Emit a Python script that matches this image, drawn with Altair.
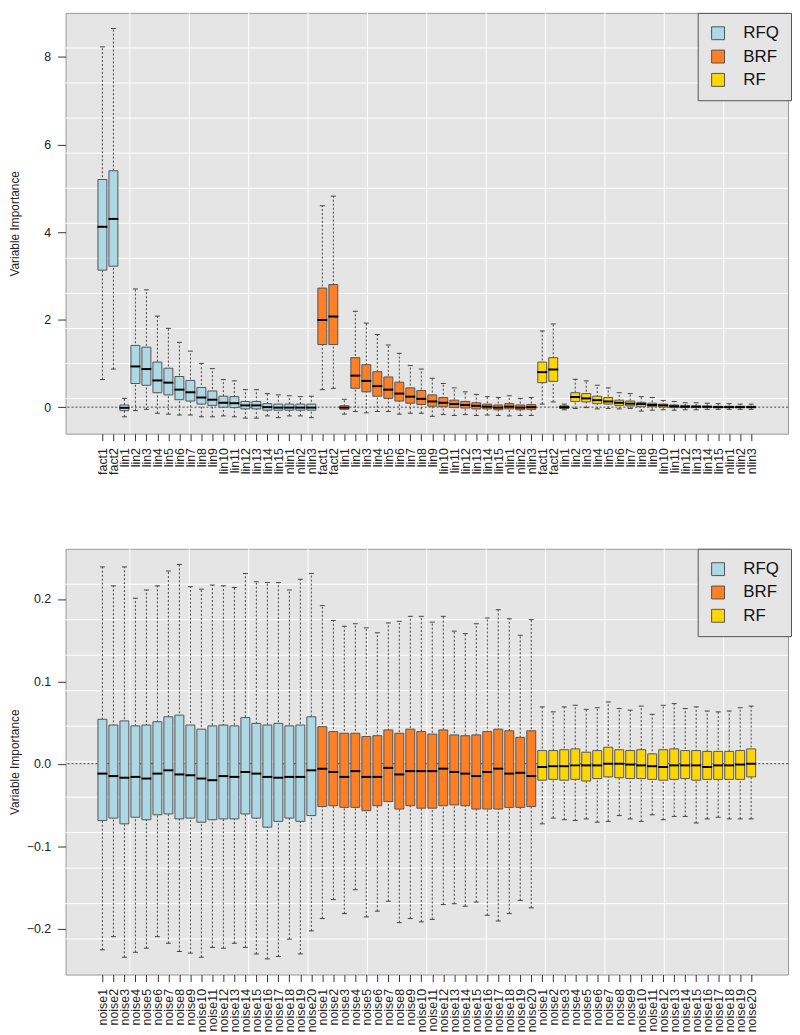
import altair as alt
import pandas as pd

METHODS = ["RFQ", "BRF", "RF"]
COLORS = ["#ADD8E6", "#FF7F24", "#FFD700"]

TOP_LABELS = ["fact1", "fact2", "lin1", "lin2", "lin3", "lin4", "lin5", "lin6", "lin7",
              "lin8", "lin9", "lin10", "lin11", "lin12", "lin13", "lin14", "lin15",
              "nlin1", "nlin2", "nlin3"]
NOISE_LABELS = ["noise1", "noise2", "noise3", "noise4", "noise5", "noise6", "noise7",
                "noise8", "noise9", "noise10", "noise11", "noise12", "noise13", "noise14",
                "noise15", "noise16", "noise17", "noise18", "noise19", "noise20"]

# ---- top panel (signal variables): lower whisker, Q1, median, Q3, upper whisker ----
RFQ_TOP_LO = [0.63, 0.87, -0.22, -0.08, -0.05, -0.14, -0.16, -0.18, -0.18, -0.22, -0.22, -0.20, -0.22, -0.25, -0.25, -0.20, -0.24, -0.20, -0.20, -0.24]
RFQ_TOP_Q1 = [3.13, 3.22, -0.08, 0.54, 0.50, 0.33, 0.28, 0.17, 0.14, 0.07, 0.04, 0.00, -0.01, -0.04, -0.04, -0.07, -0.07, -0.07, -0.07, -0.07]
RFQ_TOP_MED = [4.12, 4.30, -0.015, 0.93, 0.87, 0.61, 0.56, 0.40, 0.34, 0.22, 0.17, 0.10, 0.09, 0.04, 0.04, 0.00, -0.01, -0.01, -0.01, -0.01]
RFQ_TOP_Q3 = [5.20, 5.40, 0.05, 1.41, 1.37, 1.03, 0.89, 0.70, 0.61, 0.45, 0.37, 0.25, 0.24, 0.13, 0.13, 0.08, 0.07, 0.07, 0.07, 0.07]
RFQ_TOP_HI = [8.23, 8.65, 0.20, 2.70, 2.68, 2.08, 1.80, 1.48, 1.28, 1.00, 0.88, 0.63, 0.60, 0.40, 0.40, 0.31, 0.28, 0.26, 0.24, 0.25]

BRF_TOP_LO = [0.40, 0.43, -0.16, -0.10, -0.13, -0.10, -0.10, -0.16, -0.14, -0.14, -0.21, -0.17, -0.19, -0.17, -0.19, -0.18, -0.19, -0.20, -0.19, -0.19]
BRF_TOP_Q1 = [1.43, 1.43, -0.05, 0.43, 0.35, 0.25, 0.20, 0.14, 0.09, 0.06, 0.02, 0.01, -0.01, -0.02, -0.04, -0.04, -0.06, -0.04, -0.06, -0.05]
BRF_TOP_MED = [1.99, 2.07, -0.01, 0.72, 0.60, 0.48, 0.40, 0.31, 0.24, 0.19, 0.13, 0.10, 0.07, 0.05, 0.03, 0.01, -0.01, 0.01, -0.01, 0.00]
BRF_TOP_Q3 = [2.72, 2.80, 0.03, 1.13, 0.97, 0.81, 0.69, 0.57, 0.44, 0.38, 0.28, 0.22, 0.16, 0.13, 0.10, 0.07, 0.05, 0.08, 0.05, 0.06]
BRF_TOP_HI = [4.60, 4.82, 0.18, 2.19, 1.92, 1.66, 1.42, 1.23, 0.95, 0.87, 0.66, 0.54, 0.44, 0.35, 0.29, 0.24, 0.22, 0.26, 0.20, 0.22]

RF_TOP_LO = [0.07, 0.12, -0.06, -0.03, -0.01, -0.04, -0.03, -0.04, -0.03, -0.09, -0.07, -0.06, -0.07, -0.06, -0.06, -0.05, -0.05, -0.05, -0.05, -0.05]
RF_TOP_Q1 = [0.56, 0.59, -0.03, 0.13, 0.12, 0.08, 0.07, 0.04, 0.03, 0.01, 0.01, 0.00, -0.01, -0.01, -0.01, -0.01, -0.01, -0.01, -0.01, -0.01]
RF_TOP_MED = [0.80, 0.86, 0.00, 0.23, 0.20, 0.16, 0.13, 0.10, 0.08, 0.07, 0.05, 0.04, 0.02, 0.01, 0.01, 0.01, 0.00, 0.00, 0.00, 0.00]
RF_TOP_Q3 = [1.03, 1.13, 0.03, 0.33, 0.31, 0.25, 0.22, 0.16, 0.14, 0.11, 0.09, 0.07, 0.05, 0.04, 0.03, 0.02, 0.02, 0.02, 0.02, 0.02]
RF_TOP_HI = [1.74, 1.90, 0.07, 0.64, 0.60, 0.50, 0.44, 0.33, 0.31, 0.24, 0.22, 0.15, 0.13, 0.10, 0.10, 0.09, 0.08, 0.08, 0.07, 0.07]

# ---- bottom panel (noise variables) ----
RFQ_NOI_LO = [-0.226, -0.210, -0.235, -0.229, -0.224, -0.210, -0.218, -0.228, -0.230, -0.235, -0.223, -0.224, -0.218, -0.223, -0.231, -0.237, -0.234, -0.213, -0.231, -0.203]
RFQ_NOI_Q1 = [-0.069, -0.066, -0.073, -0.065, -0.068, -0.062, -0.061, -0.067, -0.066, -0.071, -0.068, -0.067, -0.067, -0.061, -0.066, -0.077, -0.070, -0.066, -0.070, -0.063]
RFQ_NOI_MED = [-0.012, -0.015, -0.017, -0.016, -0.018, -0.012, -0.008, -0.013, -0.014, -0.018, -0.020, -0.015, -0.016, -0.010, -0.012, -0.016, -0.017, -0.016, -0.016, -0.008]
RFQ_NOI_Q3 = [0.054, 0.047, 0.052, 0.046, 0.047, 0.051, 0.057, 0.059, 0.047, 0.042, 0.046, 0.047, 0.046, 0.056, 0.049, 0.047, 0.049, 0.046, 0.047, 0.057]
RFQ_NOI_HI = [0.239, 0.216, 0.239, 0.201, 0.211, 0.216, 0.234, 0.242, 0.215, 0.212, 0.217, 0.216, 0.214, 0.231, 0.221, 0.220, 0.220, 0.211, 0.224, 0.231]

BRF_NOI_LO = [-0.188, -0.165, -0.182, -0.153, -0.186, -0.179, -0.167, -0.193, -0.188, -0.192, -0.189, -0.171, -0.170, -0.173, -0.168, -0.184, -0.191, -0.182, -0.166, -0.175]
BRF_NOI_Q1 = [-0.052, -0.051, -0.053, -0.053, -0.057, -0.051, -0.046, -0.055, -0.051, -0.054, -0.054, -0.051, -0.050, -0.051, -0.055, -0.055, -0.055, -0.053, -0.053, -0.052]
BRF_NOI_MED = [-0.006, -0.010, -0.016, -0.009, -0.016, -0.016, -0.005, -0.013, -0.009, -0.009, -0.009, -0.006, -0.010, -0.012, -0.015, -0.010, -0.006, -0.012, -0.011, -0.015]
BRF_NOI_Q3 = [0.045, 0.039, 0.037, 0.037, 0.033, 0.034, 0.041, 0.037, 0.042, 0.039, 0.036, 0.041, 0.035, 0.034, 0.035, 0.039, 0.042, 0.040, 0.032, 0.040]
BRF_NOI_HI = [0.192, 0.174, 0.167, 0.170, 0.165, 0.159, 0.171, 0.173, 0.179, 0.179, 0.172, 0.179, 0.161, 0.158, 0.170, 0.177, 0.187, 0.176, 0.156, 0.175]

RF_NOI_LO = [-0.073, -0.066, -0.068, -0.069, -0.067, -0.071, -0.070, -0.063, -0.067, -0.070, -0.062, -0.068, -0.064, -0.064, -0.072, -0.067, -0.065, -0.067, -0.067, -0.067]
RF_NOI_Q1 = [-0.020, -0.019, -0.020, -0.019, -0.021, -0.018, -0.016, -0.017, -0.018, -0.018, -0.019, -0.020, -0.019, -0.018, -0.020, -0.019, -0.019, -0.019, -0.019, -0.016]
RF_NOI_MED = [-0.004, -0.003, -0.003, -0.002, -0.002, -0.002, 0.000, 0.000, -0.001, -0.002, -0.003, -0.004, -0.002, -0.002, -0.002, -0.004, -0.002, -0.002, -0.001, 0.000]
RF_NOI_Q3 = [0.016, 0.016, 0.017, 0.018, 0.014, 0.016, 0.020, 0.017, 0.016, 0.017, 0.012, 0.017, 0.018, 0.016, 0.016, 0.015, 0.015, 0.015, 0.016, 0.018]
RF_NOI_HI = [0.069, 0.063, 0.069, 0.071, 0.066, 0.068, 0.075, 0.067, 0.065, 0.070, 0.060, 0.071, 0.073, 0.067, 0.069, 0.064, 0.063, 0.064, 0.068, 0.070]

TOP_STATS = {
    "RFQ": [RFQ_TOP_LO, RFQ_TOP_Q1, RFQ_TOP_MED, RFQ_TOP_Q3, RFQ_TOP_HI],
    "BRF": [BRF_TOP_LO, BRF_TOP_Q1, BRF_TOP_MED, BRF_TOP_Q3, BRF_TOP_HI],
    "RF": [RF_TOP_LO, RF_TOP_Q1, RF_TOP_MED, RF_TOP_Q3, RF_TOP_HI],
}
NOI_STATS = {
    "RFQ": [RFQ_NOI_LO, RFQ_NOI_Q1, RFQ_NOI_MED, RFQ_NOI_Q3, RFQ_NOI_HI],
    "BRF": [BRF_NOI_LO, BRF_NOI_Q1, BRF_NOI_MED, BRF_NOI_Q3, BRF_NOI_HI],
    "RF": [RF_NOI_LO, RF_NOI_Q1, RF_NOI_MED, RF_NOI_Q3, RF_NOI_HI],
}

XDOM = [-1.9, 62.9]
TOP_YDOM = [-0.606, 9.006]
NOI_YDOM = [-0.256, 0.261]
TOP_YTICKS = [0, 2, 4, 6, 8]
NOI_YTICKS = [-0.2, -0.1, 0.0, 0.1, 0.2]

FONT = "Liberation Sans"
W = 728
INK = "#444444"


def panel(labels, stats, ydom, yticks, yfmt, height):
    rows = []
    for mi, m in enumerate(METHODS):
        lo, q1, med, q3, hi = stats[m]
        for vi, lab in enumerate(labels):
            rows.append(dict(pos=mi * len(labels) + vi + 1, label=lab, method=m,
                             lo=lo[vi], q1=q1[vi], med=med[vi], q3=q3[vi], hi=hi[vi]))
    df = pd.DataFrame(rows)
    all_labels = labels * len(METHODS)
    label_expr = "[" + ",".join("'%s'" % l for l in all_labels) + "][datum.value - 1]"

    xs = alt.Scale(domain=XDOM, nice=False, zero=False)
    ys = alt.Scale(domain=ydom, nice=False, zero=False)
    gx = [XDOM[0] + k * (XDOM[1] - XDOM[0]) / 12 for k in range(1, 12)]
    gy = [ydom[0] + k * (ydom[1] - ydom[0]) / 12 for k in range(1, 12)]

    xaxis = alt.Axis(values=list(range(1, len(all_labels) + 1)), labelExpr=label_expr,
                     labelAngle=-90, labelOverlap=False, labelFlush=False,
                     labelFont=FONT, labelFontSize=12.5, labelColor="#222222",
                     tickSize=7, tickColor="#333333", labelPadding=7,
                     domain=False, grid=False, title=None)
    yaxis = alt.Axis(values=yticks, format=yfmt, title="Variable Importance",
                     labelFont=FONT, labelFontSize=12.5, labelColor="#222222",
                     tickSize=8, tickColor="#333333", labelPadding=7,
                     domain=False, grid=False,
                     titleFont=FONT, titleFontSize=12, titleFontWeight="normal",
                     titleColor="#222222", titleX=-44, titleAngle=-90, titleBaseline="bottom")

    def X(field):
        return alt.X(field, scale=xs, axis=xaxis)

    def Y(field):
        return alt.Y(field, scale=ys, axis=yaxis)

    vgrid = alt.Chart(pd.DataFrame({"g": gx})).mark_rule(color="white", strokeWidth=1).encode(
        x=X("g:Q"))
    hgrid = alt.Chart(pd.DataFrame({"g": gy})).mark_rule(color="white", strokeWidth=1).encode(
        y=Y("g:Q"))
    zero = alt.Chart(pd.DataFrame({"z": [0.0]})).mark_rule(color=INK, strokeDash=[2, 2], strokeWidth=1).encode(
        y=Y("z:Q"))

    base = alt.Chart(df)
    whisk = base.mark_rule(color=INK, strokeDash=[2, 2], strokeWidth=1).encode(
        x=X("pos:Q"), y=Y("lo:Q"), y2="hi:Q")
    caplo = base.mark_tick(orient="horizontal", size=5, thickness=1, color=INK, opacity=1).encode(
        x=X("pos:Q"), y=Y("lo:Q"))
    caphi = base.mark_tick(orient="horizontal", size=5, thickness=1, color=INK, opacity=1).encode(
        x=X("pos:Q"), y=Y("hi:Q"))

    legend = alt.Legend(orient="none", legendX=W - 91, legendY=0, title=None,
                        symbolType="square", symbolSize=169, symbolStrokeColor="#555555",
                        symbolStrokeWidth=1, symbolOpacity=1,
                        labelFont=FONT, labelFontSize=17, labelColor="#111111", labelOffset=17,
                        padding=12, rowPadding=5.5, fillColor="#E5E5E5", strokeColor="#555555",
                        cornerRadius=0)
    box = base.mark_bar(size=9, stroke="#555555", strokeWidth=1, opacity=1).encode(
        x=X("pos:Q"),
        y=Y("q1:Q"),
        y2="q3:Q",
        color=alt.Color("method:N", scale=alt.Scale(domain=METHODS, range=COLORS), legend=legend),
    )
    med = base.mark_tick(orient="horizontal", size=10, thickness=2, color="black", opacity=1).encode(
        x=X("pos:Q"), y=Y("med:Q"))

    return alt.layer(hgrid, vgrid, zero, whisk, caplo, caphi, box, med).properties(width=W, height=height)


top = panel(TOP_LABELS, TOP_STATS, TOP_YDOM, TOP_YTICKS, "d", 424)
bottom = panel(NOISE_LABELS, NOI_STATS, NOI_YDOM, NOI_YTICKS, ".1f", 429)

chart = alt.vconcat(top, bottom, spacing=73).resolve_scale(
    x="independent", y="independent", color="independent"
).resolve_legend(color="independent").properties(
    padding={"left": 0, "top": 0, "right": 0, "bottom": 0}
).configure(
    font=FONT, background="white",
    view=alt.ViewConfig(fill="#E5E5E5", stroke="#999999", strokeWidth=1),
)

chart.save("out.html", embed_options={"renderer": "svg", "actions": False})
